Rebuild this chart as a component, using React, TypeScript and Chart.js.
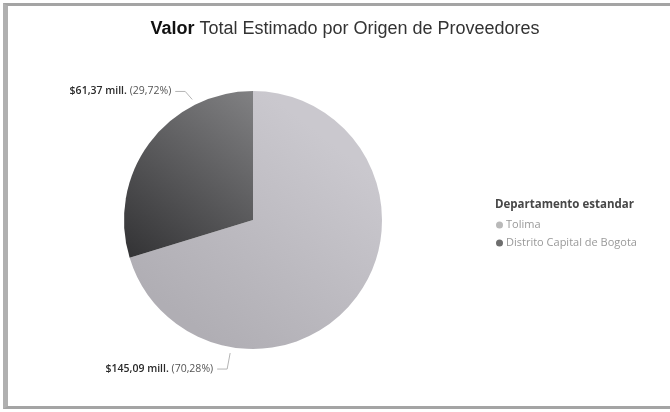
import React, { useEffect, useRef } from "react";
import { Chart, registerables } from "chart.js";

Chart.register(...registerables);

// ---- data ----
const categories = ["Tolima", "Distrito Capital de Bogota"];
const values = [145.09, 61.37];
const percents = [70.28, 29.72];
const valueUnit = "mill.";
const titleBold = "Valor";
const titleRest = " Total Estimado por Origen de Proveedores";
const legendTitle = "Departamento estandar";

// ---- style ----
const sliceColors = ["#c2c0c6", "#59595c"];
const legendMarkerColors = ["#b9b9b9", "#6e6e6e"];
const sliceGradients = [
  ["#b0aeb4", "#cac8ce"],
  ["#2e2e30", "#848486"],
];

const fmt = (n: number) => n.toFixed(2).replace(".", ",");

const overlayPlugin = {
  id: "overlay",
  afterDraw(chart: any) {
    const ctx = chart.ctx as CanvasRenderingContext2D;
    ctx.save();

    // Title
    ctx.textBaseline = "middle";
    ctx.textAlign = "left";
    ctx.font = 'bold 18px "Liberation Sans", Arial, sans-serif';
    const wb = ctx.measureText(titleBold).width;
    ctx.font = '18px "Liberation Sans", Arial, sans-serif';
    const wr = ctx.measureText(titleRest).width;
    const tx = 345 - (wb + wr) / 2;
    ctx.fillStyle = "#111";
    ctx.font = 'bold 18px "Liberation Sans", Arial, sans-serif';
    ctx.fillText(titleBold, tx, 29);
    ctx.fillStyle = "#333";
    ctx.font = '18px "Liberation Sans", Arial, sans-serif';
    ctx.fillText(titleRest, tx + wb, 29);

    // Data labels with leader lines
    const meta = chart.getDatasetMeta(0);
    meta.data.forEach((el: any, i: number) => {
      const { x, y, startAngle, endAngle, outerRadius } = el.getProps(
        ["x", "y", "startAngle", "endAngle", "outerRadius"],
        true
      );
      const a = startAngle + 0.75 * (endAngle - startAngle);
      const R = outerRadius + 6;
      const ax = x + R * Math.cos(a);
      const ay = y + R * Math.sin(a);
      const up = ay < y;
      const ex = up ? ax - 7 : ax - 3;
      const ey = up ? ay - 8 : ay + 16;
      const hx = ex - 10;
      ctx.strokeStyle = "#b4b4b4";
      ctx.lineWidth = 1;
      ctx.beginPath();
      ctx.moveTo(ax, ay);
      ctx.lineTo(ex, ey);
      ctx.lineTo(hx, ey);
      ctx.stroke();

      const p1 = `$${fmt(values[i])} ${valueUnit} `;
      const p2 = `(${fmt(percents[i])}%)`;
      ctx.font = '600 10.5px "Open Sans", sans-serif';
      const w1 = ctx.measureText(p1).width;
      ctx.font = '10.5px "Open Sans", sans-serif';
      const w2 = ctx.measureText(p2).width;
      const lx = hx - 4 - (w1 + w2);
      ctx.textAlign = "left";
      ctx.textBaseline = "middle";
      ctx.fillStyle = "#2a2a2a";
      ctx.font = '600 10.5px "Open Sans", sans-serif';
      ctx.fillText(p1, lx, ey);
      ctx.fillStyle = "#555";
      ctx.font = '10.5px "Open Sans", sans-serif';
      ctx.fillText(p2, lx + w1, ey);
    });

    // Legend
    ctx.textAlign = "left";
    ctx.textBaseline = "middle";
    ctx.font = 'bold 11.5px "Open Sans", sans-serif';
    ctx.fillStyle = "#474747";
    ctx.fillText(legendTitle, 495, 205);
    chart.data.labels.forEach((lab: string, i: number) => {
      const yy = 225 + i * 18;
      ctx.beginPath();
      ctx.arc(499.5, yy, 3.5, 0, Math.PI * 2);
      ctx.fillStyle = legendMarkerColors[i];
      ctx.fill();
      ctx.font = '11px "Open Sans", sans-serif';
      ctx.fillStyle = "#999";
      ctx.fillText(lab, 506, yy);
    });

    ctx.restore();
  },
};

export default function App() {
  const ref = useRef<HTMLCanvasElement | null>(null);

  useEffect(() => {
    document.body.style.margin = "0";
    document.body.style.overflow = "hidden";
    const canvas = ref.current;
    if (!canvas) return;
    const chart = new Chart(canvas, {
      type: "pie",
      data: {
        labels: categories,
        datasets: [
          {
            data: values,
            backgroundColor: (c: any) => {
              const i = c.dataIndex;
              const area = c.chart.chartArea;
              if (!area) return sliceColors[i];
              const g = c.chart.ctx.createLinearGradient(
                area.left,
                area.top + (area.bottom - area.top) * 0.7,
                area.left + (area.right - area.left) * 0.55,
                area.top
              );
              g.addColorStop(0, sliceGradients[i][0]);
              g.addColorStop(1, sliceGradients[i][1]);
              return g;
            },
            borderWidth: 0,
          },
        ],
      },
      options: {
        responsive: false,
        animation: false,
        devicePixelRatio: 1,
        layout: { padding: { left: 124, top: 91, right: 288, bottom: 63 } },
        plugins: {
          legend: { display: false },
          title: { display: false },
          tooltip: { enabled: false },
        },
      },
      plugins: [overlayPlugin],
    } as any);
    return () => chart.destroy();
  }, []);

  return (
    <div style={{ position: "relative", width: 670, height: 412, background: "#fff", overflow: "hidden" }}>
      <div
        style={{
          position: "absolute",
          left: 3,
          top: 3,
          width: 667,
          height: 406,
          boxSizing: "border-box",
          borderTop: "3px solid #a4a4a4",
          borderLeft: "5px solid #b0b0b0",
          borderBottom: "3px solid #a4a4a4",
        }}
      />
      <canvas ref={ref} width={670} height={412} style={{ position: "absolute", left: 0, top: 0 }} />
    </div>
  );
}
